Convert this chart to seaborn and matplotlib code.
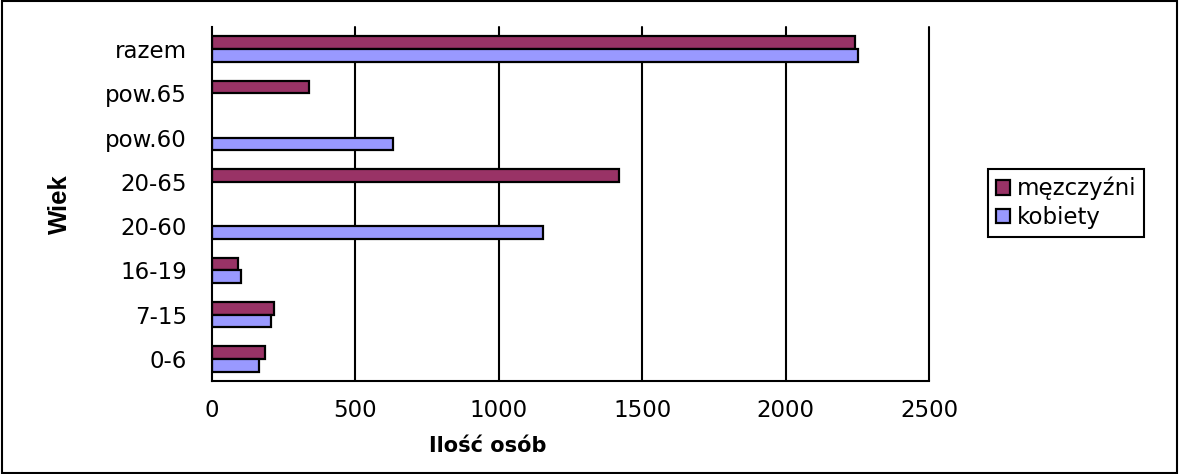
import matplotlib
matplotlib.use("Agg")
import matplotlib.pyplot as plt
import numpy as np
import pandas as pd
import seaborn as sns
from matplotlib.patches import Rectangle

# Data (top to bottom)
age_groups = ["razem", "pow.65", "pow.60", "20-65", "20-60", "16-19", "7-15", "0-6"]
men = [2242, 337, np.nan, 1419, np.nan, 91, 216, 184]
women = [2252, np.nan, 631, np.nan, 1155, 100, 207, 165]
series_names = ["męzczyźni", "kobiety"]
x_ticks = [0, 500, 1000, 1500, 2000, 2500]

df = pd.DataFrame({
    "Wiek": age_groups * 2,
    "value": men + women,
    "series": [series_names[0]] * len(age_groups) + [series_names[1]] * len(age_groups),
})

sns.set_style("white")
plt.rcParams["font.family"] = ["DejaVu Sans"]
plt.rcParams.update({"text.color": "black", "axes.labelcolor": "black",
                     "xtick.color": "black", "ytick.color": "black"})

fig = plt.figure(figsize=(11.81, 4.74), dpi=100)
ax = fig.add_axes([212 / 1181, 1 - 381 / 474, (929 - 212) / 1181, (381 - 27) / 474])

sns.barplot(
    data=df, x="value", y="Wiek", hue="series",
    order=age_groups, hue_order=series_names,
    palette=["#993366", "#9999FF"], saturation=1,
    orient="y", width=0.58, edgecolor="black", linewidth=1.6,
    ax=ax,
)

ax.set_xlim(0, 2500)
ax.set_ylim(len(age_groups) - 0.5, -0.5)
ax.set_xticks(x_ticks)
ax.set_xticklabels([str(t) for t in x_ticks], fontsize=16.5)
ax.tick_params(axis="y", which="major", length=0, labelsize=16.5, pad=18)
ax.set_yticks(np.arange(len(age_groups) + 1) - 0.5, minor=True)
ax.tick_params(axis="y", which="minor", length=6, width=1.2, color="black", direction="out")
ax.tick_params(axis="x", length=6, width=1.2, color="black", direction="out", pad=7)

for t in x_ticks[1:]:
    ax.axvline(t, color="black", linewidth=1.5, zorder=0, clip_on=False)

for side in ["top", "right"]:
    ax.spines[side].set_visible(False)
for side in ["left", "bottom"]:
    ax.spines[side].set_color("black")
    ax.spines[side].set_linewidth(1.5)

ax.set_xlabel("Ilość osób", fontsize=15, fontweight="bold")
ax.xaxis.set_label_coords(0.384, -0.155)
ax.set_ylabel("Wiek", fontsize=18.5, fontweight="bold", family="Liberation Sans")
ax.yaxis.set_label_coords(-0.195, 0.5)

leg = ax.legend(
    loc="center left", bbox_to_anchor=(988 / 1181, 1 - 203 / 474),
    bbox_transform=fig.transFigure, frameon=True, fancybox=False,
    edgecolor="black", fontsize=16.5, handlelength=0.6, handleheight=0.6,
    handletextpad=0.3, borderpad=0.35, labelspacing=0.25, borderaxespad=0,
)
leg.get_frame().set_linewidth(1.5)
leg.get_frame().set_alpha(1)

fig.patches.append(Rectangle((0.002, 0.003), 0.995, 0.994, transform=fig.transFigure,
                             fill=False, edgecolor="black", linewidth=1.5))

fig.savefig("out.png", dpi=100)
